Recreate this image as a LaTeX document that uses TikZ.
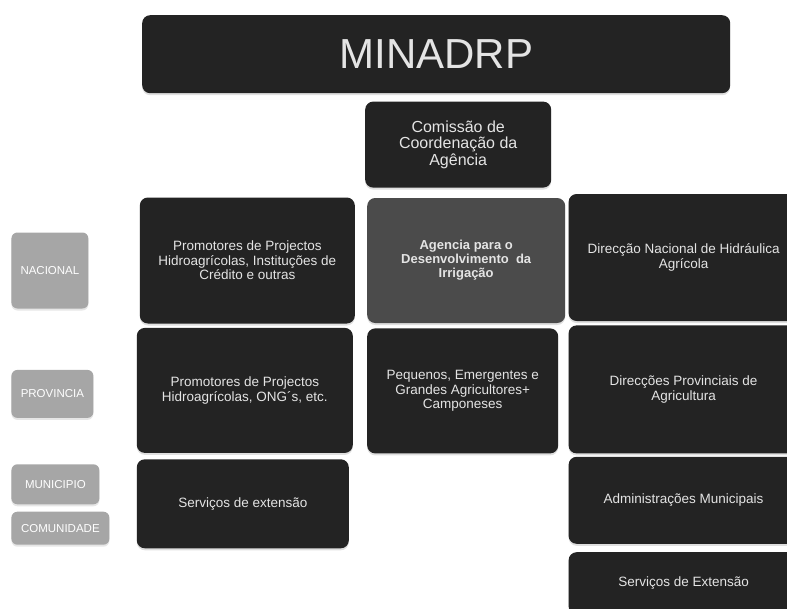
\documentclass[tikz,border=0pt]{standalone}
\usepackage{fontspec}
\setmainfont{Liberation Sans}
\usetikzlibrary{positioning,shadows}
\definecolor{boxdark}{HTML}{232323}
\definecolor{boxmid}{HTML}{4B4B4B}
\definecolor{boxlight}{HTML}{A6A6A6}
\definecolor{boxtext}{HTML}{E4E4E4}

\begin{document}
\begin{tikzpicture}[
    dark/.style={fill=boxdark, text=boxtext, rounded corners=8pt, align=center, inner sep=2pt,
      drop shadow={opacity=0.25, shadow xshift=0pt, shadow yshift=-2pt},
      font=\fontsize{13.5}{14.5}\selectfont},
    level/.style={fill=boxlight, text=white, rounded corners=6pt, inner sep=1pt,
      drop shadow={opacity=0.2, shadow xshift=0pt, shadow yshift=-2pt},
      font=\fontsize{11.5}{13}\selectfont}]
    \useasboundingbox (0,0) rectangle (787pt,-608pt);
    \clip (0,0) rectangle (787pt,-608pt);

    \node(minadrp) [dark, minimum width=588pt, minimum height=78pt, anchor=north west,
      font=\fontsize{42}{44}\selectfont] at (142pt,-15pt) {MINADRP};
    \node(comissao) [dark, minimum width=186pt, minimum height=86pt,
      below right=8pt and 223pt of minadrp.south west, font=\fontsize{16}{16.5}\selectfont]
      {Comissão de\\Coordenação da\\Agência};

    \node(agencia) [dark, fill=boxmid, minimum width=198pt, minimum height=125pt,
      below=10pt of comissao.south west, anchor=north west, xshift=2pt, font=\fontsize{13}{14}\selectfont\bfseries]
      {Agencia para o\\Desenvolvimento~ da\\Irrigação};
    \node(promnac) [dark, minimum width=215pt, minimum height=126pt, left=12pt of agencia]
      {Promotores de Projectos\\Hidroagrícolas, Instituções de\\Crédito e outras};
    \node(dirnac) [dark, minimum width=230pt, minimum height=127pt, right=3pt of agencia, yshift=3pt]
      {Direcção Nacional de Hidráulica\\Agrícola};

    \node(promprov) [dark, minimum width=216pt, minimum height=125pt,
      below=4pt of promnac.south west, anchor=north west, xshift=-3pt]
      {Promotores de Projectos\\Hidroagrícolas, ONG´s, etc.};
    \node(pequenos) [dark, minimum width=191pt, minimum height=125pt,
      below=5pt of agencia.south west, anchor=north west]
      {Pequenos, Emergentes e\\Grandes Agricultores+\\Camponeses};
    \node(dirprov) [dark, minimum width=230pt, minimum height=128pt,
      below=4pt of dirnac.south west, anchor=north west]
      {Direcções Provinciais de\\Agricultura};

    \node(servext) [dark, minimum width=212pt, minimum height=89pt,
      below=6pt of promprov.south west, anchor=north west] {Serviços de extensão};
    \node(adminmun) [dark, minimum width=230pt, minimum height=87pt,
      below=3pt of dirprov.south west, anchor=north west] {Administrações Municipais};
    \node(servExt) [dark, minimum width=230pt, minimum height=62pt,
      below=8pt of adminmun.south west, anchor=north west] {Serviços de Extensão};

    \node(nacional) [level, minimum width=77pt, minimum height=76pt,
      left=51pt of promnac, yshift=-10pt] {NACIONAL};
    \node(provincia) [level, minimum width=82pt, minimum height=48pt,
      left=43pt of promprov, yshift=-3.5pt] {PROVINCIA};
    \node(municipio) [level, minimum width=88pt, minimum height=40pt,
      below=46pt of provincia.south west, anchor=north west] {MUNICIPIO};
    \node(comunidade) [level, minimum width=98pt, minimum height=33pt,
      below=7pt of municipio.south west, anchor=north west] {COMUNIDADE};
\end{tikzpicture}
\end{document}
